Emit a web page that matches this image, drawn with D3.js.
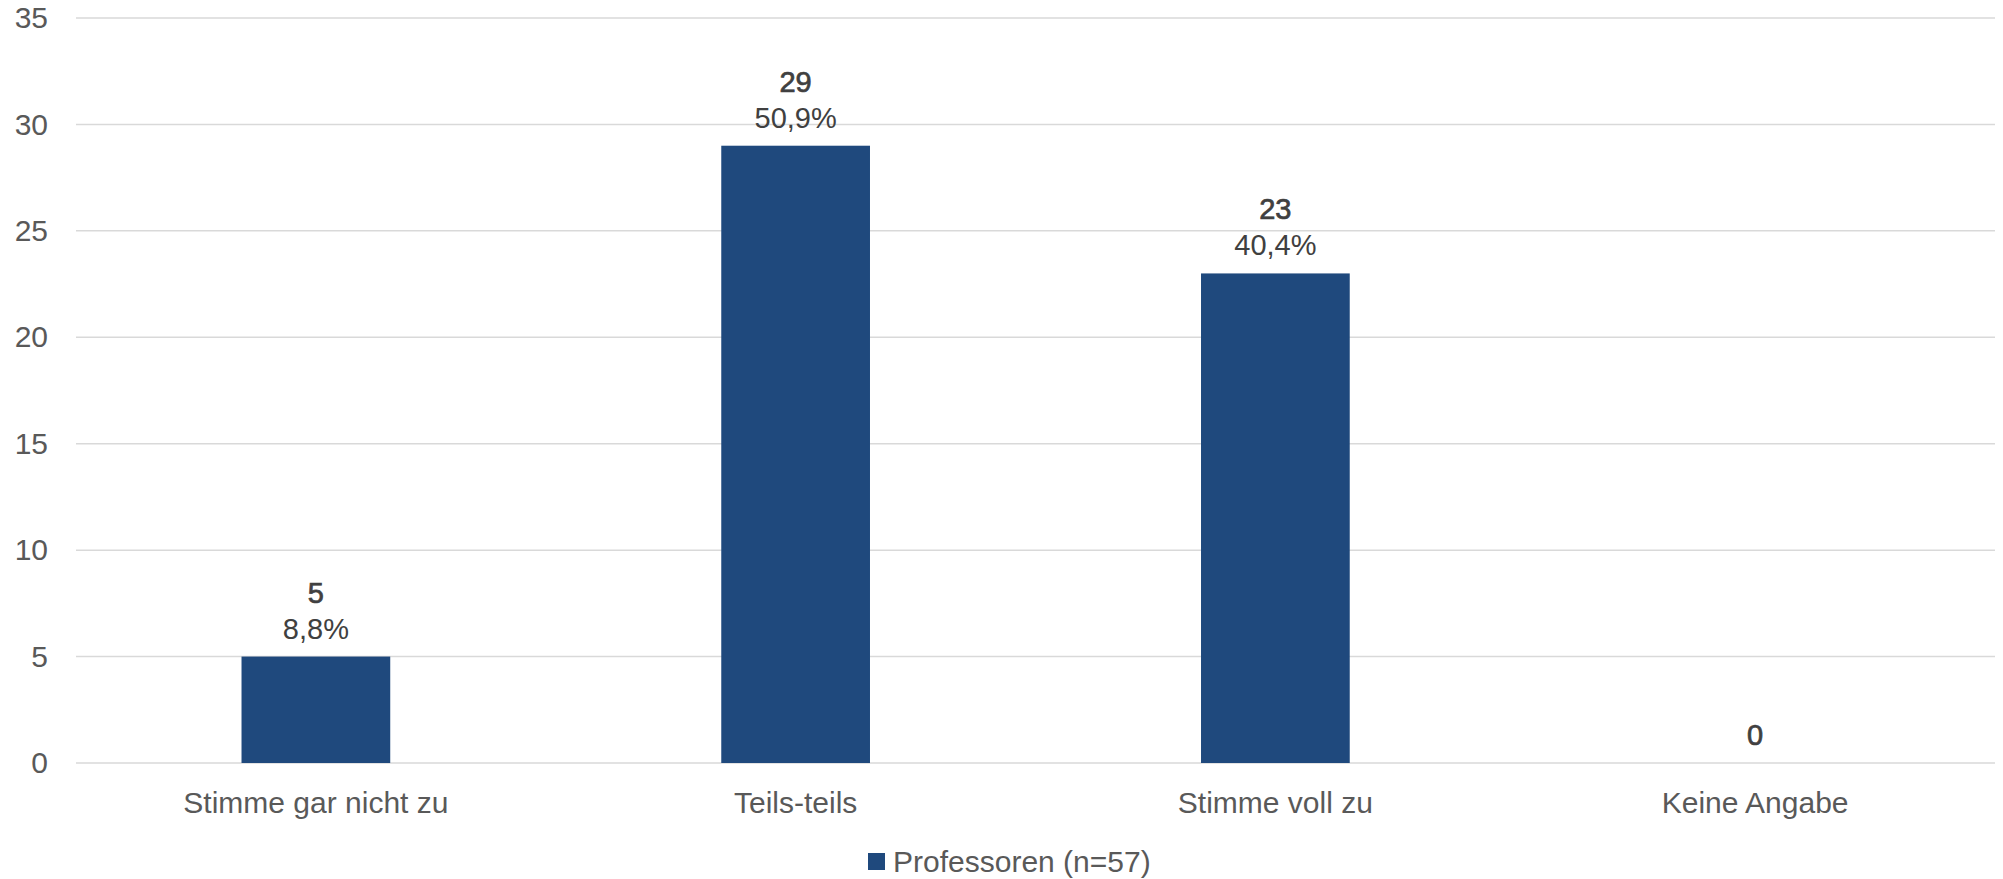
<!DOCTYPE html>
<html>
<head>
<meta charset="utf-8">
<script src="https://cdn.jsdelivr.net/npm/d3@7"></script>
<style>
  html, body { margin: 0; padding: 0; background: #ffffff; }
  svg { display: block; }
  text { font-family: "Liberation Sans", Arial, sans-serif; }
</style>
</head>
<body>
<svg id="chart" width="2003" height="879"></svg>
<script>
const categories = ["Stimme gar nicht zu", "Teils-teils", "Stimme voll zu", "Keine Angabe"];
const counts = [5, 29, 23, 0];
const percents = ["8,8%", "50,9%", "40,4%", ""];
const yTicks = [0, 5, 10, 15, 20, 25, 30, 35];
const seriesName = "Professoren (n=57)";

const W = 2003, H = 879;
const margin = { left: 76, right: 8, top: 18, bottom: 116 };
const svg = d3.select("#chart");

const x = d3.scaleBand()
  .domain(categories)
  .range([margin.left, W - margin.right])
  .paddingInner(0.69)
  .paddingOuter(0.345);

const y = d3.scaleLinear()
  .domain([0, 35])
  .range([H - margin.bottom, margin.top]);

// gridlines
svg.append("g")
  .selectAll("line")
  .data(yTicks)
  .join("line")
  .attr("x1", margin.left)
  .attr("x2", W - margin.right)
  .attr("y1", d => y(d))
  .attr("y2", d => y(d))
  .attr("stroke", "#d9d9d9")
  .attr("stroke-width", 1.5);

// y axis labels
const yAxis = d3.axisLeft(y).tickValues(yTicks).tickSize(0).tickPadding(0);
const gy = svg.append("g")
  .attr("transform", `translate(${48},0)`)
  .call(yAxis);
gy.select(".domain").remove();
gy.selectAll("text")
  .attr("fill", "#595959")
  .style("font-size", "30px")
  .style("font-family", "'Liberation Sans', Arial, sans-serif");

// bars
svg.append("g")
  .selectAll("rect")
  .data(categories)
  .join("rect")
  .attr("x", d => x(d))
  .attr("width", x.bandwidth())
  .attr("y", (d, i) => y(counts[i]))
  .attr("height", (d, i) => y(0) - y(counts[i]))
  .attr("fill", "#1f497d");

// data labels
const lbl = svg.append("g");
categories.forEach((c, i) => {
  const cx = x(c) + x.bandwidth() / 2;
  const top = y(counts[i]);
  const hasPct = percents[i] !== "";
  if (hasPct) {
    lbl.append("text")
      .attr("x", cx)
      .attr("y", top - 18)
      .attr("text-anchor", "middle")
      .attr("fill", "#404040")
      .style("font-size", "29px")
      .text(percents[i]);
  }
  lbl.append("text")
    .attr("x", cx)
    .attr("y", hasPct ? top - 54 : top - 18)
    .attr("text-anchor", "middle")
    .attr("fill", "#404040")
    .attr("stroke", "#404040")
    .attr("stroke-width", 0.7)
    .style("font-size", "29px")
    .text(counts[i]);
});

// x axis labels
const xAxis = d3.axisBottom(x).tickSize(0).tickPadding(0);
const gx = svg.append("g")
  .attr("transform", `translate(0,${y(0)})`)
  .call(xAxis);
gx.select(".domain").remove();
gx.selectAll("text")
  .attr("dy", null)
  .attr("y", 50)
  .attr("fill", "#595959")
  .style("font-size", "30px")
  .style("font-family", "'Liberation Sans', Arial, sans-serif");

// legend
const leg = svg.append("g");
leg.append("rect")
  .attr("x", 868).attr("y", 853)
  .attr("width", 17).attr("height", 17)
  .attr("fill", "#1f497d");
leg.append("text")
  .attr("x", 893).attr("y", 872)
  .attr("fill", "#595959")
  .style("font-size", "30px")
  .text(seriesName);
</script>
</body>
</html>
